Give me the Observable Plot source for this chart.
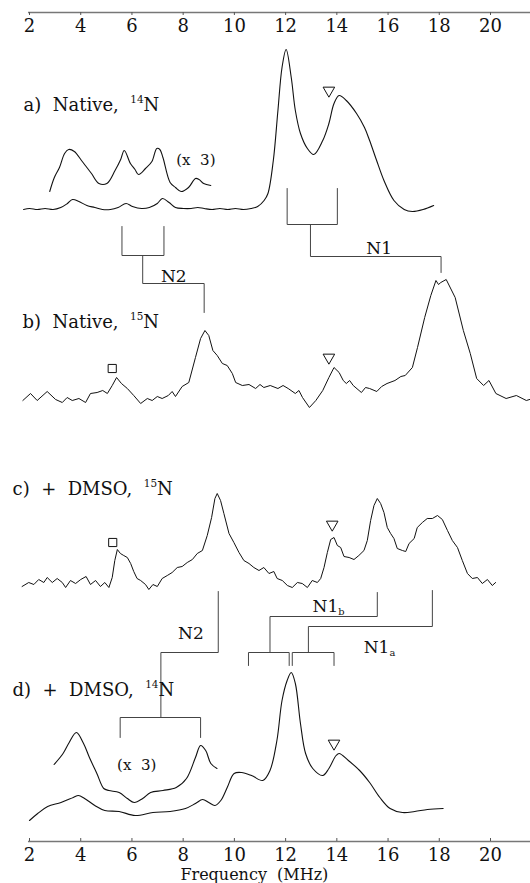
<!DOCTYPE html>
<html><head><meta charset="utf-8">
<script src="https://cdn.jsdelivr.net/npm/d3@7"></script>
<script src="https://cdn.jsdelivr.net/npm/@observablehq/plot@0.6"></script>
<style>body{margin:0;background:#fff}svg{display:block}</style>
</head><body><div id="chart"></div>
<script>
// Frequency tick labels (MHz)
const ticks = [2, 4, 6, 8, 10, 12, 14, 16, 18, 20];

// Spectra: [frequency MHz, intensity (arb.)]
const traceA = [[1.77,0],[2.0,1],[2.31,0],[2.61,1],[2.92,0],[3.22,2],[3.48,6],[3.68,10],[3.93,8],[4.24,4],[4.55,2],[4.85,0],[5.16,0],[5.46,2],[5.77,6],[6.02,3],[6.38,1],[6.68,2],[6.99,6],[7.19,11],[7.45,7],[7.7,2],[8.01,1],[8.31,1],[8.57,2],[8.82,1],[9.13,0],[9.43,1],[9.74,0],[10.04,1],[10.35,0],[10.65,1],[10.91,3],[11.16,9],[11.31,16],[11.52,49],[11.7,99],[11.86,142],[12.02,160],[12.22,132],[12.38,99],[12.58,76],[12.85,61],[13.1,55],[13.45,69],[13.69,86],[13.89,106],[14.09,114],[14.37,109],[14.77,96],[15.08,82],[15.28,69],[15.54,50],[15.84,29],[16.23,9],[16.63,0],[16.95,-2],[17.37,0],[17.78,4]];
const traceA3 = [[2.79,18],[2.97,32],[3.17,42],[3.37,56],[3.53,60],[3.75,58],[4.03,49],[4.24,42],[4.42,36],[4.71,26],[5.02,26],[5.34,39],[5.56,50],[5.7,59],[5.94,46],[6.12,40],[6.26,35],[6.53,41],[6.78,48],[6.97,61],[7.09,60],[7.21,52],[7.49,27],[7.7,22],[7.92,18],[8.21,22],[8.48,31],[8.62,30],[8.8,26],[9.08,24]];
const traceB = [[1.74,0],[2.04,7],[2.3,0],[2.69,9],[3.02,1],[3.28,-2],[3.47,3],[3.67,0],[3.93,2],[4.19,-2],[4.38,7],[4.64,8],[4.86,10],[5.04,7],[5.23,15],[5.4,23],[5.59,17],[5.82,12],[6.07,5],[6.34,-3],[6.6,2],[6.79,0],[6.99,4],[7.18,2],[7.42,5],[7.57,9],[7.7,4],[7.96,14],[8.22,18],[8.48,43],[8.68,62],[8.85,70],[9.0,65],[9.16,50],[9.33,45],[9.53,37],[9.72,35],[9.92,27],[10.05,18],[10.31,15],[10.57,16],[10.83,12],[11.0,16],[11.15,13],[11.4,15],[11.7,12],[11.9,15],[12.1,12],[12.38,7],[12.52,10],[12.66,3],[12.93,-7],[13.18,0],[13.45,10],[13.69,23],[13.89,33],[14.09,28],[14.25,20],[14.37,17],[14.5,20],[14.64,15],[14.96,8],[15.12,13],[15.28,12],[15.56,9],[15.75,14],[15.96,17],[16.27,20],[16.5,24],[16.67,25],[16.95,33],[17.15,53],[17.43,83],[17.67,105],[17.87,120],[17.97,116],[18.06,118],[18.27,121],[18.62,103],[18.94,70],[19.21,47],[19.46,22],[19.73,15],[19.94,20],[20.21,7],[20.61,2],[21.01,5],[21.4,0],[21.65,2]];
const traceC = [[1.71,-1],[1.97,3],[2.17,1],[2.36,6],[2.56,3],[2.69,8],[2.89,3],[3.08,7],[3.28,3],[3.41,-2],[3.6,5],[3.8,2],[4.0,6],[4.21,9],[4.38,1],[4.58,5],[4.77,-1],[4.94,3],[5.1,-2],[5.23,8],[5.33,25],[5.43,36],[5.55,32],[5.68,30],[5.82,28],[5.95,22],[6.07,14],[6.2,7],[6.34,5],[6.53,1],[6.66,-4],[6.82,1],[6.99,-1],[7.18,7],[7.38,10],[7.57,13],[7.77,18],[7.96,19],[8.16,23],[8.36,26],[8.55,32],[8.75,35],[8.94,50],[9.11,68],[9.24,87],[9.33,92],[9.46,85],[9.59,72],[9.79,52],[9.98,43],[10.18,33],[10.37,25],[10.57,22],[10.76,18],[10.96,15],[11.15,18],[11.35,12],[11.54,14],[11.67,7],[11.87,5],[12.07,0],[12.26,-2],[12.46,3],[12.65,2],[12.85,-2],[13.04,5],[13.24,3],[13.37,7],[13.5,18],[13.63,33],[13.76,46],[13.89,48],[14.02,40],[14.15,38],[14.28,29],[14.48,28],[14.67,26],[14.86,30],[15.06,35],[15.19,45],[15.32,65],[15.45,80],[15.58,87],[15.71,82],[15.84,73],[15.97,58],[16.1,52],[16.23,47],[16.36,37],[16.56,35],[16.69,34],[16.82,42],[17.02,47],[17.14,58],[17.34,63],[17.53,67],[17.73,67],[17.93,70],[18.12,66],[18.32,55],[18.51,45],[18.71,38],[18.9,25],[19.1,12],[19.29,7],[19.49,8],[19.68,2],[19.88,6],[20.07,0],[20.2,3]];
const traceD = [[2.0,-10],[2.32,-3],[2.71,4],[3.23,8],[3.71,13],[3.91,15],[4.15,12],[4.55,5],[4.94,0],[5.5,-1],[6.13,-5],[6.82,-2],[7.49,-1],[8.09,2],[8.48,7],[8.76,11],[9.0,8],[9.24,5],[9.47,10],[9.72,23],[9.99,37],[10.28,38],[10.67,35],[11.11,30],[11.39,40],[11.66,70],[11.86,110],[12.06,130],[12.22,138],[12.38,127],[12.58,87],[12.78,57],[13.06,42],[13.45,35],[13.69,42],[13.97,55],[14.09,57],[14.45,50],[14.89,40],[15.28,28],[15.68,13],[16.08,2],[16.56,-2],[17.04,-1],[17.54,1],[18.15,2]];
const traceD3 = [[2.96,46],[3.31,57],[3.55,68],[3.83,78],[4.11,67],[4.34,53],[4.63,37],[4.9,22],[5.1,20],[5.5,18],[5.82,12],[6.09,8],[6.42,12],[6.73,18],[7.21,20],[7.73,23],[8.13,32],[8.48,53],[8.68,65],[8.88,60],[9.08,47],[9.32,42]];

// Stick diagrams: 14N doublet, its centre, and the matching 15N line (MHz)
const sticksA_N1 = {pair: [12.06, 14.02], stem: 12.97, n15: 18.07};
const sticksA_N2 = {pair: [5.61, 7.25], stem: 6.42, n15: 8.82};
const sticksD_N2 = {pair: [5.54, 8.68], stem: 7.13, n15: 9.37};
const sticksD_N1b = {pair: [10.55, 12.14], stem: 11.39, n15: 15.58};
const sticksD_N1a = {pair: [12.26, 13.89], stem: 12.89, n15: 17.73};

// Marker positions (MHz)
const triangles = [13.69, 13.69, 13.82, 13.89];
const squares = [5.23, 5.25];

// Texts
const panelLabels = ["a)\u00A0 Native,\u00A0 ^{14}N", "b)\u00A0 Native,\u00A0 ^{15}N", "c)\u00A0 +\u00A0 DMSO,\u00A0 ^{15}N", "d)\u00A0 +\u00A0 DMSO,\u00A0 ^{14}N"];
const stickLabels = ["N1", "N2", "N1_{b}", "N2", "N1_{a}"];
const scaleLabel = "(x\u00A0 3)";
const xLabel = "Frequency\u00A0 (MHz)";

// ---------- layout ----------
const base = {a: 209, b: 400, c: 585, d: 810};
const rows = (arr, b, id) => arr.map(([f, h]) => ({f, y: b - h, id}));
const spectra = [
  ...rows(traceA, base.a, "a"), ...rows(traceA3, base.a, "a3"),
  ...rows(traceD, base.d, "d"), ...rows(traceD3, base.d, "d3")
];
const noisy = [...rows(traceB, base.b, "b"), ...rows(traceC, base.c, "c")];

function stickLines(s, yTip, yBar, yJoin, yEnd, id) {
  return [
    {f: s.pair[0], y: yTip, id: id + "br"}, {f: s.pair[0], y: yBar, id: id + "br"},
    {f: s.pair[1], y: yBar, id: id + "br"}, {f: s.pair[1], y: yTip, id: id + "br"},
    {f: s.stem, y: yBar, id: id + "st"}, {f: s.stem, y: yJoin, id: id + "st"},
    {f: s.n15, y: yJoin, id: id + "st"}, {f: s.n15, y: yEnd, id: id + "st"}
  ];
}
const sticks = [
  ...stickLines(sticksA_N1, 188, 224, 256, 272, "a1"),
  ...stickLines(sticksA_N2, 226, 255, 283, 312, "a2"),
  ...stickLines(sticksD_N2, 737, 717, 652, 591, "d2"),
  ...stickLines(sticksD_N1b, 665, 652, 616, 592, "d1b"),
  ...stickLines(sticksD_N1a, 665, 652, 626, 590, "d1a")
];

const panelText = panelLabels.map((t, i) => ({t, f: [1.77, 1.73, 1.34, 1.34][i], y: [110, 327, 494, 695][i]}));
const stickText = stickLabels.map((t, i) => ({t, f: [15.15, 7.13, 13.05, 7.8, 15.05][i], y: [253, 281, 611, 638, 652][i]}));
const triData = triangles.map((f, i) => ({f, y: [90, 357, 524, 743][i]}));
const sqData = squares.map((f, i) => ({f, y: [368, 542][i]}));

const font = "DejaVu Serif";
const ink = "#111";
const plot = Plot.plot({
  width: 530, height: 883, margin: 0,
  style: {background: "#fff", fontFamily: font, color: ink},
  x: {domain: [2, 20], range: [29, 490], axis: null},
  y: {domain: [0, 883], range: [0, 883], axis: null},
  marks: [
    // axes
    Plot.ruleY([12], {x1: 1.96, x2: 21.9, stroke: "#777", strokeWidth: 1.3}),
    Plot.ruleY([841], {x1: 1.96, x2: 21.9, stroke: "#777", strokeWidth: 1.3}),
    Plot.ruleX(ticks, {x: d => d, y1: 12, y2: 15, stroke: "#555"}),
    Plot.ruleX(ticks, {x: d => d, y1: 838, y2: 841, stroke: "#555"}),
    Plot.text(ticks, {x: d => d, y: 31, text: d => String(d), fontSize: 18, lineAnchor: "bottom", fill: ink}),
    Plot.text(ticks, {x: d => d, y: 860, text: d => String(d), fontSize: 18, lineAnchor: "bottom", fill: ink}),
    Plot.text([xLabel], {x: 10.78, y: 879, text: d => d, fontSize: 16, lineAnchor: "bottom", fill: ink}),
    // spectra
    Plot.line(spectra, {x: "f", y: "y", z: "id", curve: "catmull-rom", stroke: ink, strokeWidth: 1.1}),
    Plot.line(noisy, {x: "f", y: "y", z: "id", curve: "linear", stroke: ink, strokeWidth: 1}),
    // stick diagrams
    Plot.line(sticks, {x: "f", y: "y", z: "id", stroke: "#444", strokeWidth: 1}),
    // markers
    Plot.dot(triData, {x: "f", y: "y", symbol: "triangle", r: 4.3, rotate: 180, stroke: ink, strokeWidth: 1, fill: "none"}),
    Plot.dot(sqData, {x: "f", y: "y", symbol: "square", r: 4.6, stroke: ink, strokeWidth: 1, fill: "none"}),
    // texts
    Plot.text(panelText, {x: "f", y: "y", text: "t", fontSize: 18, textAnchor: "start", lineAnchor: "bottom", fill: ink}),
    Plot.text(stickText, {x: "f", y: "y", text: "t", fontSize: 17, textAnchor: "start", lineAnchor: "bottom", fill: ink}),
    Plot.text([scaleLabel], {x: 7.73, y: 164, text: d => d, fontSize: 15, textAnchor: "start", lineAnchor: "bottom", fill: ink}),
    Plot.text([scaleLabel], {x: 5.42, y: 769, text: d => d, fontSize: 15, textAnchor: "start", lineAnchor: "bottom", fill: ink})
  ]
});
document.getElementById("chart").appendChild(plot);

// super/subscripts
d3.select(plot).selectAll("text").each(function () {
  const t = this.textContent;
  if (!/[\^_]\{/.test(t)) return;
  const S = parseFloat(getComputedStyle(this).fontSize);
  const parts = t.split(/(\^\{[^}]*\}|_\{[^}]*\})/).filter(p => p.length);
  this.textContent = "";
  let shift = 0;
  for (const p of parts) {
    const ts = document.createElementNS("http://www.w3.org/2000/svg", "tspan");
    let target = 0, txt = p, size = null;
    if (p.startsWith("^{")) { target = -0.42 * S; txt = p.slice(2, -1); size = 0.58 * S; }
    else if (p.startsWith("_{")) { target = 0.22 * S; txt = p.slice(2, -1); size = 0.58 * S; }
    ts.setAttribute("dy", target - shift);
    shift = target;
    if (size) ts.setAttribute("font-size", size);
    ts.textContent = txt;
    this.appendChild(ts);
  }
});
</script></body></html>
